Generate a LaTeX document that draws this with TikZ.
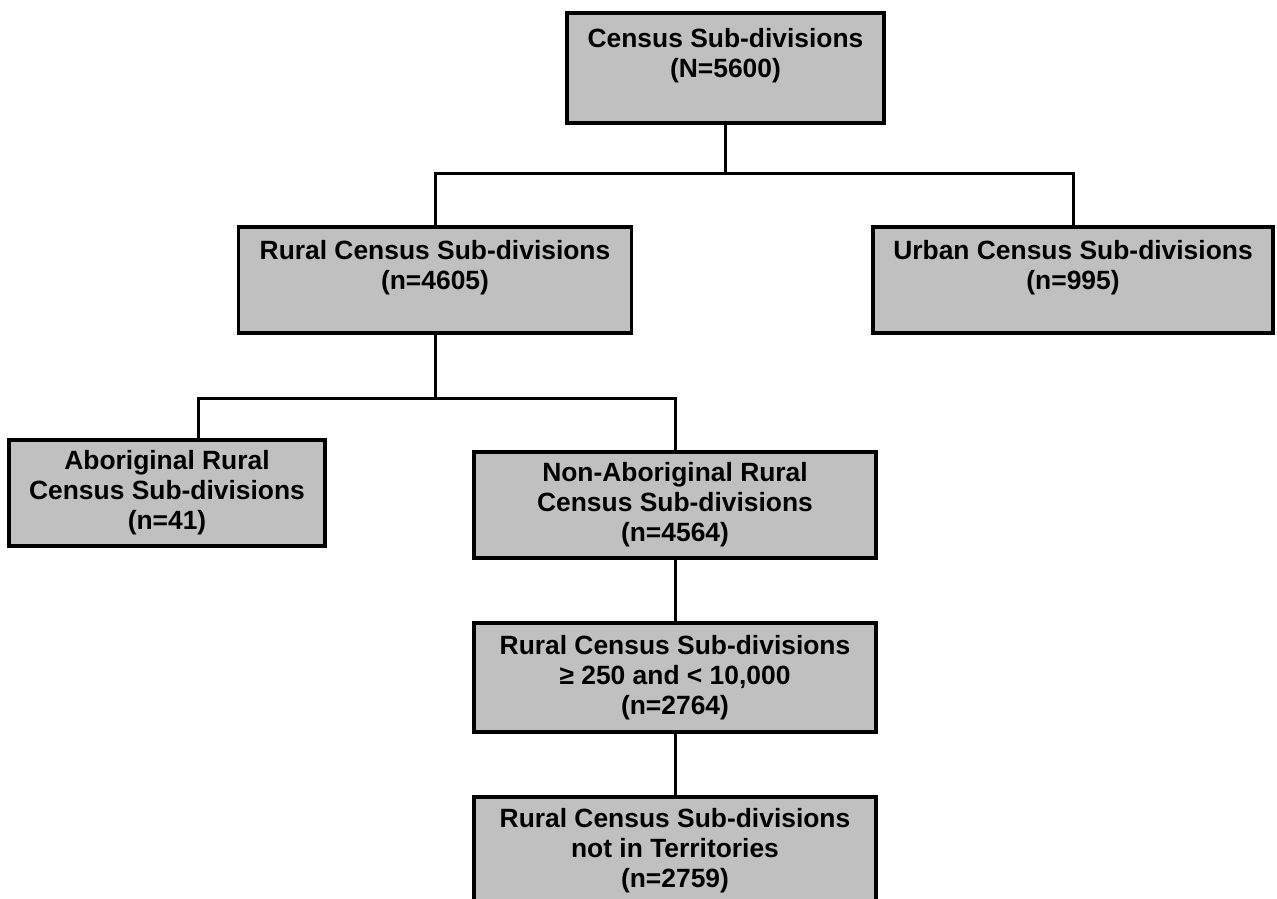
\documentclass[tikz,border=0pt]{standalone}
\usepackage{fontspec}
\setmainfont{Liberation Sans}
\definecolor{boxgray}{HTML}{C0C0C0}

\begin{document}
\begin{tikzpicture}[x=1pt,y=-1pt]
    \useasboundingbox (0,0) rectangle (1277,899);
    \clip (0,0) rectangle (1277,899);
    \begin{scope}[every node/.style={rectangle,draw,line width=3.5pt,fill=boxgray,
                  align=center,inner sep=0pt,font=\bfseries\fontsize{26.4}{30}\selectfont}]
        \node[minimum width=317pt,minimum height=110pt] (csd) at (725.5,68) {Census Sub-divisions\\(N=5600)\\\mbox{}};
        \node[minimum width=393pt,minimum height=106pt] (rural) at (435,280) {Rural Census Sub-divisions\\(n=4605)\\\mbox{}};
        \node[minimum width=400pt,minimum height=106pt] (urban) at (1073,280) {Urban Census Sub-divisions\\(n=995)\\\mbox{}};
        \node[minimum width=316pt,minimum height=106pt] (aborig) at (167,493) {Aboriginal Rural\\Census Sub-divisions\\(n=41)};
        \node[minimum width=402pt,minimum height=106pt] (nonab) at (675,505) {Non-Aboriginal Rural\\Census Sub-divisions\\(n=4564)};
        \node[minimum width=402pt,minimum height=109pt] (size) at (675,677.5) {Rural Census Sub-divisions\\≥ 250 and < 10,000\\(n=2764)};
        \node[minimum width=402pt,minimum height=108pt] (terr) at (675,851) {Rural Census Sub-divisions\\not in Territories\\(n=2759)};
    \end{scope}

    \coordinate (bus1) at (725.5,173);
    \coordinate (bus2) at (435,398);
    \coordinate (abtop) at (198,440);

    \begin{scope}[line width=3pt]
        \draw (csd.south) -- (bus1);
        \draw (rural.north) |- (bus1);
        \draw (urban.north) |- (bus1);
        \draw (rural.south) -- (bus2);
        \draw (nonab.north) |- (bus2) -| (abtop);
        \draw (nonab.south) -- (size.north);
        \draw (size.south) -- (terr.north);
    \end{scope}
\end{tikzpicture}
\end{document}
